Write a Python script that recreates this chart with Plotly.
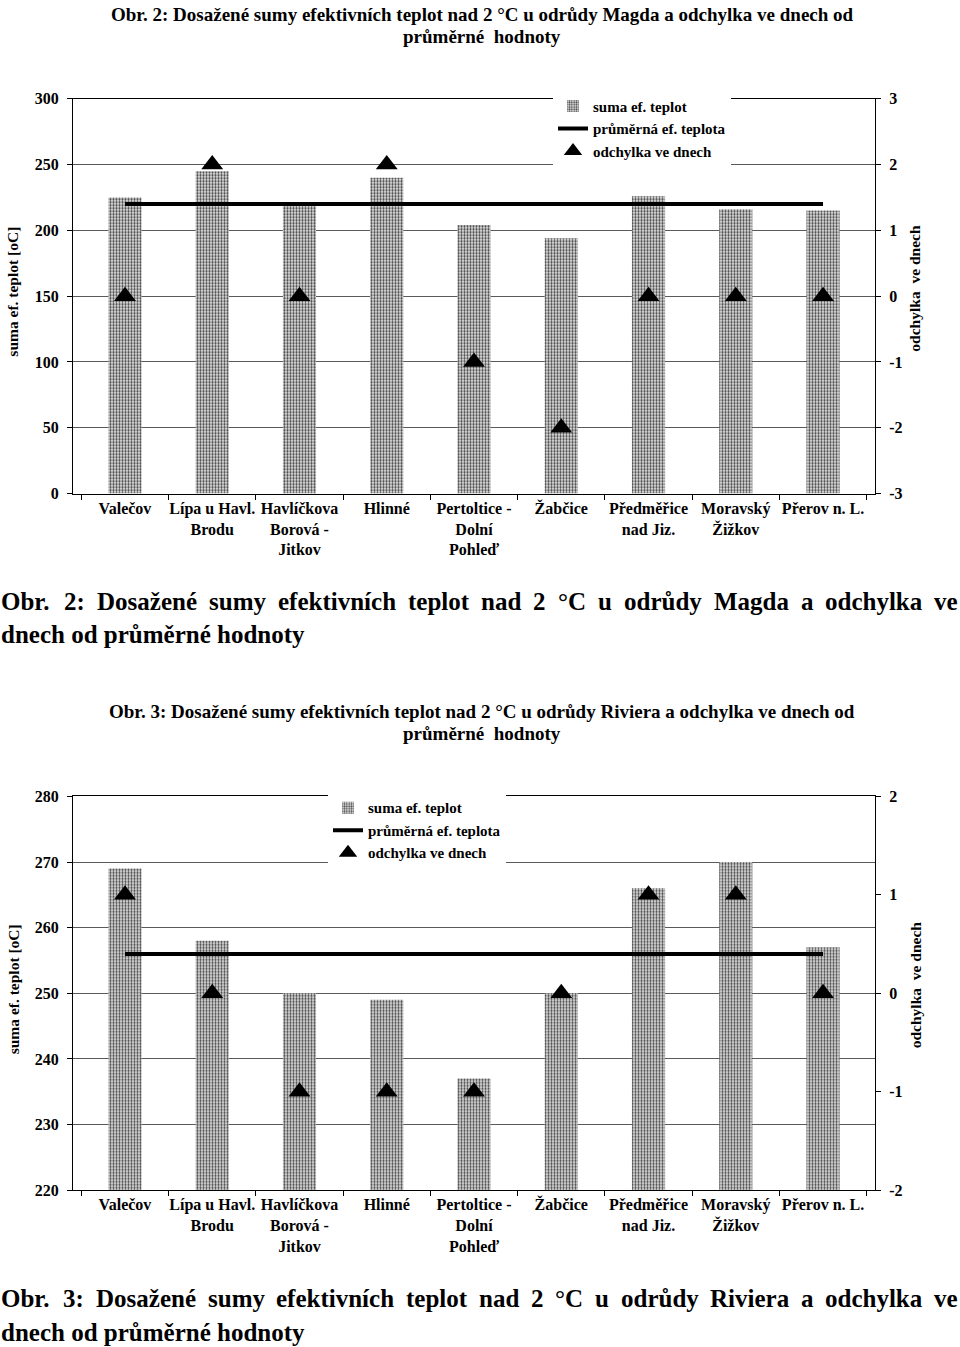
import plotly.graph_objects as go

# ---------------- data ----------------
categories = ["Valečov", "Lípa u Havl.<br>Brodu", "Havlíčkova<br>Borová -<br>Jitkov", "Hlinné",
              "Pertoltice -<br>Dolní<br>Pohleď", "Žabčice", "Předměřice<br>nad Jiz.",
              "Moravský<br>Žižkov", "Přerov n. L."]

magda_suma = [225, 245, 219, 240, 204, 194, 226, 216, 215]
magda_prumer = [220] * 9
magda_odchylka = [0, 2, 0, 2, -1, -2, 0, 0, 0]

riviera_suma = [269, 258, 250, 249, 237, 250, 266, 270, 257]
riviera_prumer = [256] * 9
riviera_odchylka = [1, 0, -1, -1, -1, 0, 1, 1, 0]

left_ticks_1 = [0, 50, 100, 150, 200, 250, 300]
right_ticks_1 = [-3, -2, -1, 0, 1, 2, 3]
left_ticks_2 = [220, 230, 240, 250, 260, 270, 280]
right_ticks_2 = [-2, -1, 0, 1, 2]

series_names = ["suma ef. teplot", "průměrná ef. teplota", "odchylka ve dnech"]
left_title = "suma ef. teplot [oC]"
right_title = "odchylka  ve dnech"

title_1 = ["Obr. 2: Dosažené sumy efektivních teplot nad 2 °C u odrůdy Magda a odchylka ve dnech od",
           "průměrné  hodnoty"]
title_2 = ["Obr. 3: Dosažené sumy efektivních teplot nad 2 °C u odrůdy Riviera a odchylka ve dnech od",
           "průměrné  hodnoty"]
caption_1 = ["Obr. 2: Dosažené sumy efektivních teplot nad 2 °C u odrůdy Magda a odchylka ve",
             "dnech od průměrné hodnoty"]
caption_2 = ["Obr. 3: Dosažené sumy efektivních teplot nad 2 °C u odrůdy Riviera a odchylka ve",
             "dnech od průměrné hodnoty"]

# ---------------- layout helpers ----------------
W, H = 960, 1347
FONT = "Liberation Serif, Times New Roman, serif"
# observed vertical mapping of the rendered page (screen = OFF + SC * figure)
OFF, SC = 7.2, 0.9879


def px_x(p):
    return p / W


def px_y(p):
    return 1 - ((p - OFF) / SC) / H


# Times Bold advance widths (per 1000 em) for justified caption layout
TB = {'O': 778, 'b': 556, 'r': 444, '.': 250, '2': 500, '3': 500, ':': 333, 'D': 722, 'o': 500,
      's': 389, 'a': 500, 'ž': 444, 'e': 444, 'n': 556, 'é': 444, 'u': 556, 'm': 833, 'y': 500,
      'f': 333, 'k': 556, 't': 333, 'i': 278, 'v': 500, 'í': 278, 'c': 444, 'h': 556, 'l': 278,
      'p': 556, 'd': 556, '°': 400, 'C': 722, 'ů': 556, 'g': 500, 'M': 944, 'R': 722, 'ě': 444,
      'ř': 444, ' ': 250}


def tw(s, size):
    return sum(TB.get(ch, 500) for ch in s) * size / 1000


bar_marker = dict(color="#e6e6e6", line=dict(width=0),
                  pattern=dict(shape=".", fgcolor="#444444", bgcolor="#e6e6e6",
                               size=3, solidity=0.45, fillmode="replace"))

fig = go.Figure()

charts = [
    dict(suma=magda_suma, prumer=magda_prumer, odch=magda_odchylka, lt=left_ticks_1, rt=right_ticks_1,
         top=98, bot=493, xa="x", ya="y", ya2="y2", legend="legend"),
    dict(suma=riviera_suma, prumer=riviera_prumer, odch=riviera_odchylka, lt=left_ticks_2,
         rt=right_ticks_2, top=796, bot=1190, xa="x2", ya="y3", ya2="y4", legend="legend2"),
]

for c in charts:
    fig.add_trace(go.Bar(x=categories, y=c["suma"], name=series_names[0], marker=bar_marker,
                         width=0.38, xaxis=c["xa"], yaxis=c["ya"], legend=c["legend"]))
    fig.add_trace(go.Scatter(x=categories, y=c["prumer"], name=series_names[1], mode="lines",
                             line=dict(color="black", width=4), xaxis=c["xa"], yaxis=c["ya"],
                             legend=c["legend"]))
    fig.add_trace(go.Scatter(x=categories, y=c["odch"], name=series_names[2], mode="markers",
                             marker=dict(symbol="triangle-up", size=19, color="black"),
                             xaxis=c["xa"], yaxis=c["ya2"], legend=c["legend"]))

tickfont = dict(family=FONT, size=16, color="black", weight="bold")
ytickfont = dict(family=FONT, size=16, color="black", weight="bold")
xdom = [px_x(73), px_x(875)]

common_x = dict(type="category", domain=xdom, showline=True, linecolor="black", linewidth=1,
                mirror=True, tickangle=0,
                ticks="outside", ticklen=5, tickcolor="black", tickson="boundaries",
                showgrid=False, tickfont=tickfont, zeroline=False, fixedrange=True)


def yleft(c):
    return dict(domain=[px_y(c["bot"]), px_y(c["top"])], range=[c["lt"][0], c["lt"][-1]],
                tickvals=c["lt"], showline=True, linecolor="black", linewidth=1, ticks="outside",
                ticklen=5, tickcolor="black", showgrid=True, gridcolor="#5a5a5a", gridwidth=1,
                zeroline=False, tickfont=ytickfont, ticklabelstandoff=5)


def yright(c, over):
    return dict(overlaying=over, side="right", range=[c["rt"][0], c["rt"][-1]], tickvals=c["rt"],
                ticktext=[str(v) for v in c["rt"]],
                showline=True, linecolor="black", linewidth=1, ticks="outside", ticklen=5,
                tickcolor="black", showgrid=False, zeroline=False, tickfont=ytickfont,
                ticklabelstandoff=5)


legend_common = dict(bgcolor="white", borderwidth=0, font=dict(family=FONT, size=15, color="black",
                                                                 weight="bold"),
                     xanchor="left", yanchor="top", itemwidth=30, tracegroupgap=0,
                     traceorder="normal")

fig.update_layout(
    width=W, height=H, margin=dict(l=0, r=0, t=0, b=0), autosize=False,
    paper_bgcolor="white", plot_bgcolor="white", showlegend=True,
    xaxis=dict(common_x, anchor="y"),
    yaxis=dict(yleft(charts[0]), anchor="x"),
    yaxis2=dict(yright(charts[0], "y"), anchor="x"),
    xaxis2=dict(common_x, anchor="y3"),
    yaxis3=dict(yleft(charts[1]), anchor="x2"),
    yaxis4=dict(yright(charts[1], "y3"), anchor="x2"),
    legend=dict(legend_common, x=px_x(553), y=px_y(89)),
    legend2=dict(legend_common, x=px_x(328), y=px_y(791)),
)

ann = []


def add_text(text, x, y, size, xanchor="center", angle=0):
    ann.append(dict(text=text, x=x, y=y, xref="paper", yref="paper", showarrow=False,
                    xanchor=xanchor, yanchor="middle", textangle=angle, borderpad=0,
                    font=dict(family=FONT, size=size, color="black", weight="bold")))


# chart titles
for t, (y1, y2) in [(title_1, (14, 36)), (title_2, (711, 733))]:
    add_text(t[0], px_x(482), px_y(y1), 19)
    add_text(t[1], px_x(482), px_y(y2), 19)

# axis titles
for yc_l, yc_r in [(291, 288), (989, 985)]:
    add_text(left_title, px_x(13), px_y(yc_l), 15.5, angle=-90)
    add_text(right_title, px_x(915), px_y(yc_r), 15.5, angle=-90)

# justified captions
CAP = 25
for cap, (y1, y2) in [(caption_1, (601, 634)), (caption_2, (1298, 1332))]:
    words = cap[0].split(" ")
    widths = [tw(w, CAP) for w in words]
    gap = (957 - sum(widths)) / (len(words) - 1)
    xpos = 0.0
    for w, wd in zip(words, widths):
        add_text(w, px_x(xpos), px_y(y1), CAP, xanchor="left")
        xpos += wd + gap
    add_text(cap[1], px_x(0), px_y(y2), CAP, xanchor="left")

fig.update_layout(annotations=ann)

page_fix = (
    "var de=document.documentElement, b=document.body;"
    "de.style.margin='0';de.style.padding='0';de.style.overflow='hidden';"
    "b.style.margin='0';b.style.padding='0';b.style.overflow='hidden';"
)

fig.write_html("out.html", post_script=page_fix)
